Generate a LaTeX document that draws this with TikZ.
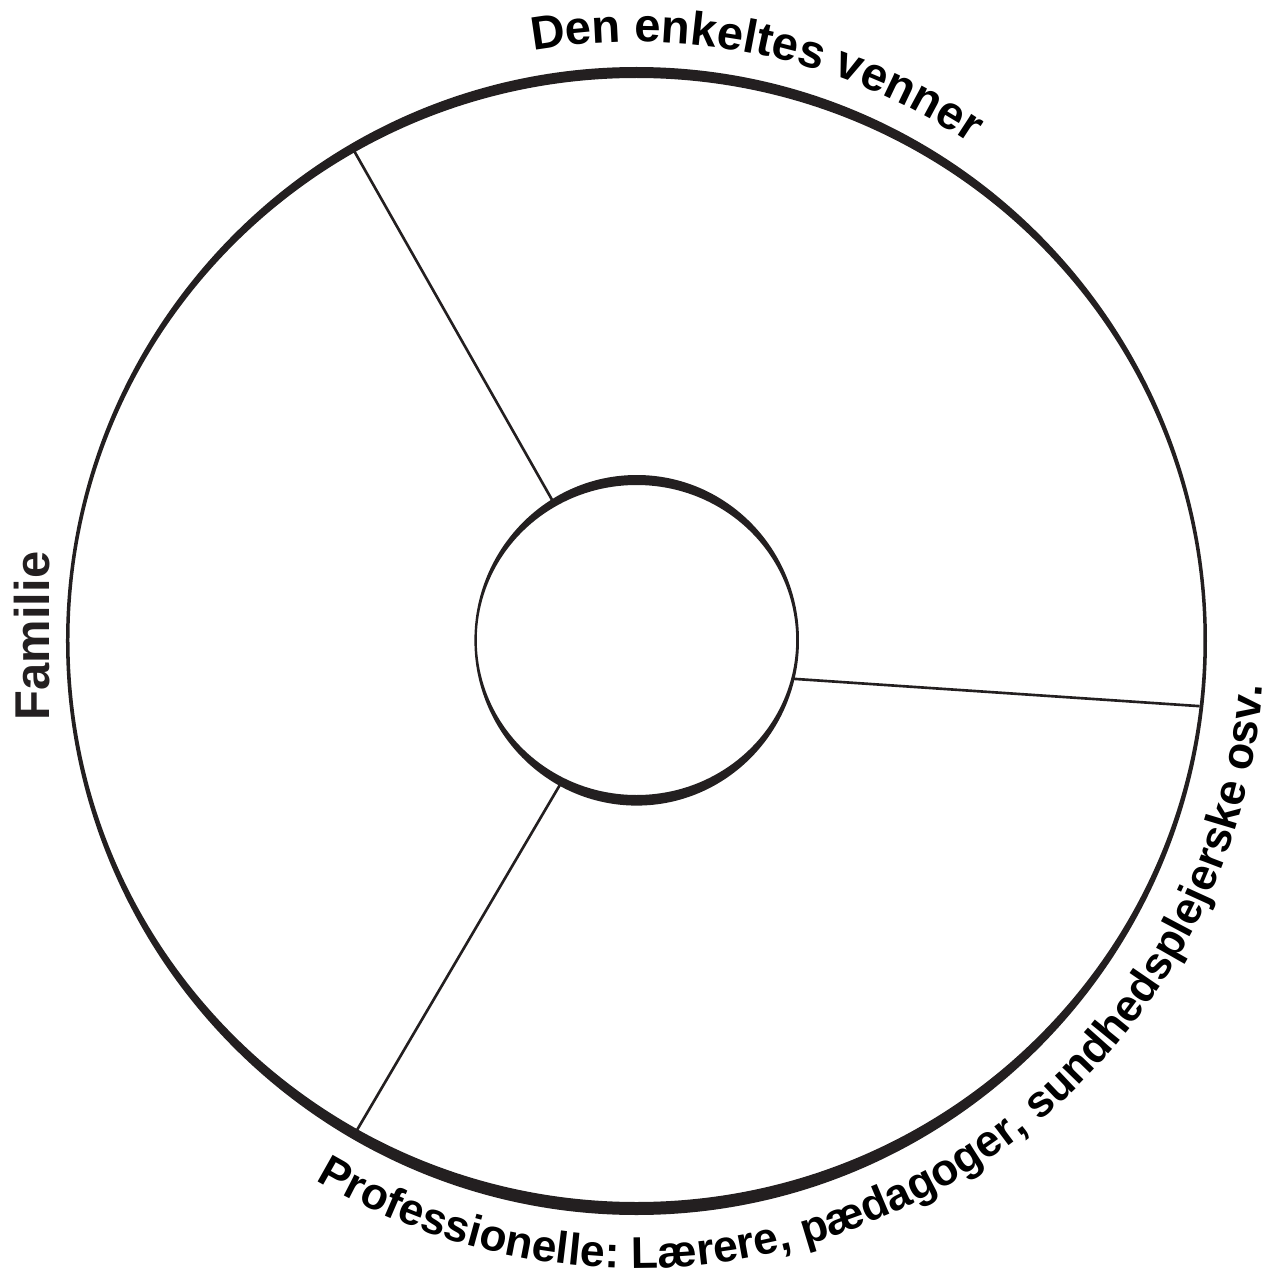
\documentclass[tikz,border=0pt]{standalone}
\usepackage{fontspec}
\setmainfont{Liberation Sans}
\usetikzlibrary{decorations.text}
\definecolor{inkcol}{HTML}{231F20}
\tikzset{every node/.style={font=\bfseries, text=inkcol}}
\newcommand\arctextfont{\bfseries\fontsize{13.4pt}{16pt}\selectfont}
\newcommand\lowtextfont{\bfseries\fontsize{12.65pt}{15pt}\selectfont}

\begin{document}
\begin{tikzpicture}[x=0.01cm, y=0.01cm,
    spoke/.style={draw=inkcol, line width=0.75pt},
    ring/.style={fill=inkcol, even odd rule}]
  % Fixed bounding box (picture size)
  \path[use as bounding box] (-636.5,-644) rectangle (645.5,640);

  % Spoke ends.
  \coordinate (venner-in) at (121.1:160);
  \coordinate (venner-out) at (120:565);
  \coordinate (prof-in) at (-14:160);
  \coordinate (prof-out) at (-6.7:567);
  \coordinate (fam-in) at (242.2:160);
  \coordinate (fam-out) at (240.3:565);

  % Spokes between the rings.
  \draw[spoke] (venner-in) -- (venner-out);
  \draw[spoke] (prof-in) -- (prof-out);
  \draw[spoke] (fam-in) -- (fam-out);

  % Outer and inner ring, thicker at top and bottom.
  \fill[ring] (0,-1) ellipse [x radius=570.5, y radius=574]
              (0,0) ellipse [x radius=567, y radius=562];
  \fill[ring] (0.2,-0.3) ellipse [x radius=162.3, y radius=165.3]
              (0,0) ellipse [x radius=159.7, y radius=155];

  % Labels round the ring.
  \path[decorate, decoration={text along path, text align=center,
      text={|\arctextfont|Den enkeltes venner}}]
    (130:598) arc [start angle=130, end angle=26, radius=598];
  \path[decorate, decoration={text along path, text align=center,
      text={|\lowtextfont|Professionelle: Lærere, pædagoger, sundhedsplejerske osv.}}]
    (197.6:628) arc [start angle=197.6, end angle=397.6, radius=628];
  \node[rotate=90, anchor=base, font=\bfseries\fontsize{13.9pt}{16pt}\selectfont]
    (familie) at (-586.5,4) {Familie};
\end{tikzpicture}
\end{document}
